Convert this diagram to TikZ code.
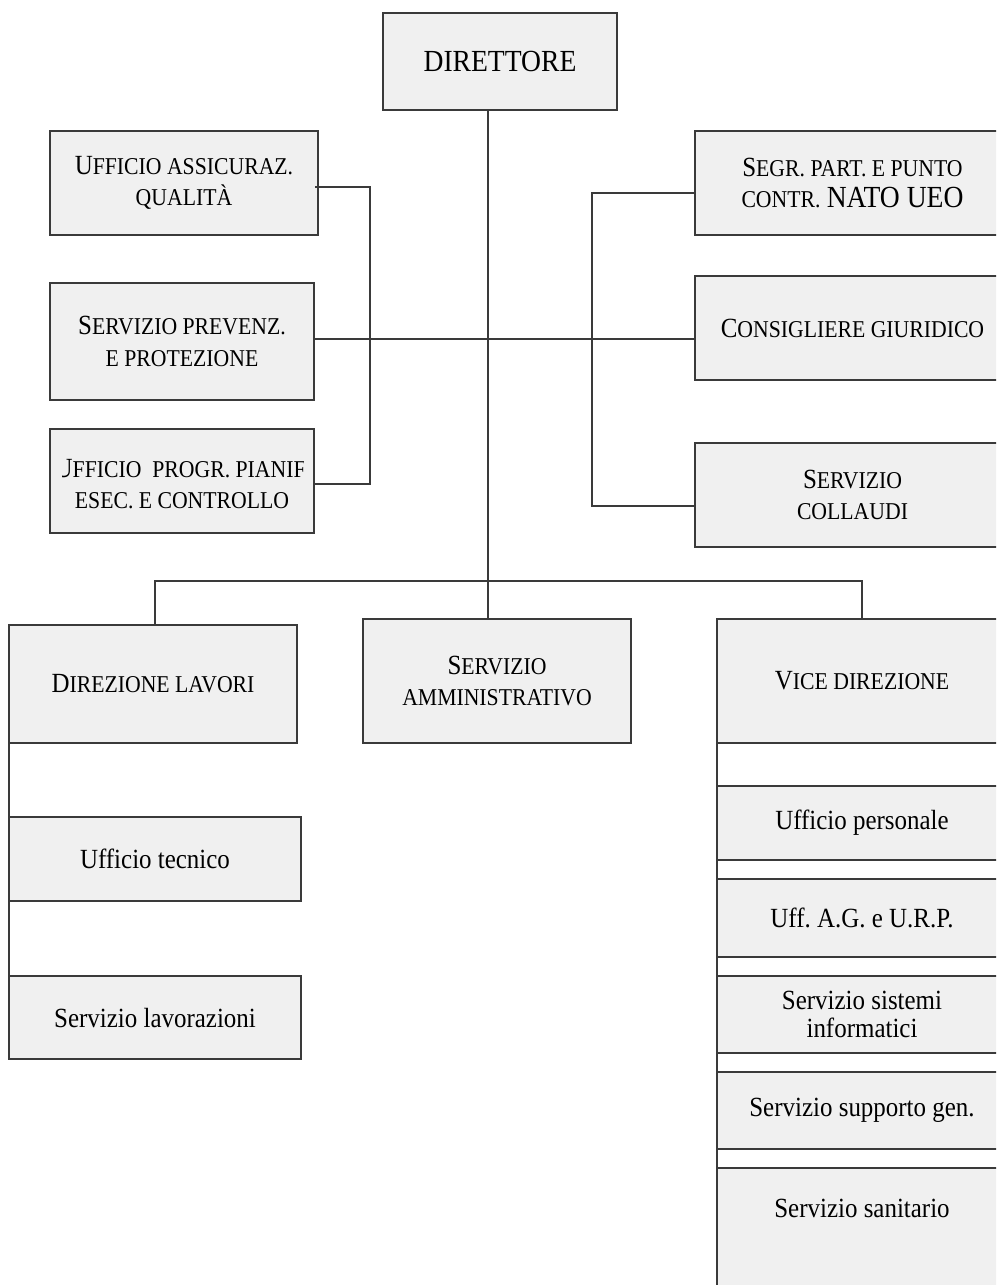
\documentclass[tikz,border=0pt]{standalone}
\usepackage{fontspec}
\setmainfont{Liberation Serif}[FakeStretch=0.9]
\frenchspacing
\definecolor{boxf}{HTML}{F0F0F0}
\definecolor{linec}{HTML}{3A3A3A}
\newcommand\SC[1]{{\fontsize{18.1pt}{20pt}\selectfont #1}}
\newcommand\BIG[1]{{\fontsize{23pt}{26pt}\selectfont #1}}
\newcommand\scfont{\fontsize{20.8pt}{23.5pt}\selectfont}
\newcommand\plfont{\fontsize{20.8pt}{21pt}\selectfont}
\tikzset{
  box/.style={draw=linec, fill=boxf, line width=1.1pt, inner sep=0pt, outer sep=0pt,
    align=center, text=black, font=\scfont},
  plain/.style={font=\plfont},
  conn/.style={draw=linec, line width=1.1pt},
}
% name, x1, y1, x2, y2, text
\newcommand\mkbox[7][]{%
  \node[box, minimum width={(#5-#3)*0.75pt}, minimum height={(#6-#4)*0.75pt}, #1]
    (#2) at ({(#3+#5)/2},{(#4+#6)/2}) {#7};}
\begin{document}
\begin{tikzpicture}[x=0.75pt, y=-0.75pt]
\useasboundingbox (0,0) rectangle (996,1285);
\clip (0,0) rectangle (996,1285);

\mkbox{dir}{383}{13}{617}{110}{\BIG{DIRETTORE}}

\mkbox{uaq}{50}{131}{318}{235}{U\SC{FFICIO ASSICURAZ.}\\\SC{QUALITÀ}}
\mkbox{spp}{50}{283}{314}{400}{S\SC{ERVIZIO PREVENZ.}\\\SC{E PROTEZIONE}}
\mkbox{upp}{50}{429}{314}{533}{}
\begin{scope}
  \clip (62,429) rectangle (303,533);
  \node[align=center, font=\scfont, inner sep=0pt] (upptext) at (182,484)
    {U\SC{FFICIO\ \ PROGR. PIANIF.}\\\SC{ESEC. E CONTROLLO}};
\end{scope}

\mkbox{segr}{695}{131}{1010}{235}{S\SC{EGR. PART. E PUNTO}\\\SC{CONTR.} \BIG{NATO UEO}}
\mkbox{cons}{695}{276}{1010}{380}{C\SC{ONSIGLIERE GIURIDICO}}
\mkbox{coll}{695}{443}{1010}{547}{S\SC{ERVIZIO}\\\SC{COLLAUDI}}

\mkbox{dl}{9}{625}{297}{743}{D\SC{IREZIONE LAVORI}}
\mkbox{sa}{363}{619}{631}{743}{S\SC{ERVIZIO}\\\SC{AMMINISTRATIVO}}
\mkbox{vd}{717}{619}{1007}{743}{V\SC{ICE DIREZIONE}}

\mkbox[plain]{ut}{9}{817}{301}{901}{Ufficio tecnico}
\mkbox[plain]{sl}{9}{976}{301}{1059}{Servizio lavorazioni}

\mkbox[plain]{up}{717}{786}{1007}{860}{Ufficio personale}
\mkbox[plain]{ag}{717}{879}{1007}{957}{Uff. A.G. e U.R.P.}
\mkbox[plain]{ssi}{717}{976}{1007}{1053}{Servizio sistemi\\informatici}
\mkbox[plain]{ssg}{717}{1072}{1007}{1149}{Servizio supporto gen.}
\node[box, plain, anchor=north west, minimum width={290*0.75pt}, inner ysep=0pt,
  text height={49*0.75pt}, text depth={83*0.75pt}] (ssan) at (717,1168) {Servizio sanitario};

% connectors
\coordinate (trunkc) at (488,0);
\draw[conn] (dir.south -| trunkc) -- (sa.north -| trunkc);
\coordinate (busL) at (155,581);
\coordinate (busR) at (862,581);
\draw[conn] (dl.north -| busL) -- (busL) -- (busR) -- (vd.north -| busR);

\coordinate (lq1) at (370,187);
\coordinate (lq2) at (370,484);
\draw[conn] ([xshift=-2.25pt]uaq.east |- lq1) -- (lq1) -- (lq2) -- (upp.east |- lq2);

\coordinate (mh) at (0,339);
\draw[conn] (spp.east |- mh) -- (cons.west |- mh);

\coordinate (rq1) at (592,193);
\coordinate (rq2) at (592,506);
\draw[conn] (segr.west |- rq1) -- (rq1) -- (rq2) -- (coll.west |- rq2);

\draw[conn] (dl.south west) -- (sl.north west);
\draw[conn] (vd.south west) -- (ssan.north west);
\end{tikzpicture}
\end{document}
